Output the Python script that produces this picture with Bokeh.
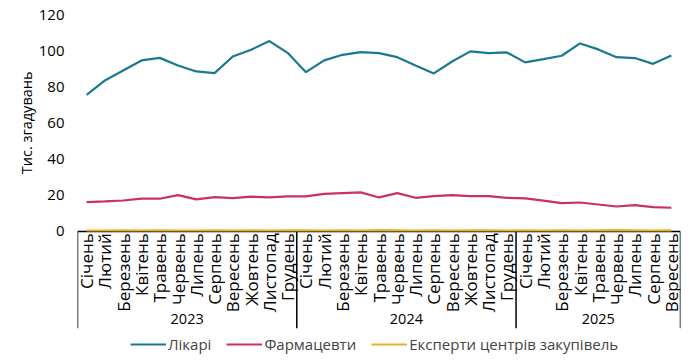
import math
from bokeh.plotting import figure
from bokeh.models import (FactorRange, Range1d, Legend, LegendItem, FixedTicker,
                          ColumnDataSource, Title)
from bokeh.transform import dodge
from bokeh.core.properties import value
from bokeh.embed import file_html
from bokeh.resources import INLINE

years = ["2023", "2024", "2025"]
months = ["Січень", "Лютий", "Березень", "Квітень", "Травень", "Червень",
          "Липень", "Серпень", "Вересень", "Жовтень", "Листопад", "Грудень"]
months_per_year = [12, 12, 9]

doctors = [75.6, 83.5, 89.0, 94.6, 96.0, 91.8, 88.5, 87.6, 96.8, 100.5, 105.3, 98.8,
           88.1, 94.6, 97.7, 99.2, 98.6, 96.4, 91.8, 87.4, 94.0, 99.6, 98.6, 99.0,
           93.5, 95.3, 97.2, 104.0, 100.7, 96.4, 95.9, 92.7, 97.3]
pharmacists = [16.2, 16.6, 17.1, 18.1, 18.1, 20.1, 17.7, 19.0, 18.4, 19.2, 18.8, 19.4,
               19.4, 20.8, 21.2, 21.6, 18.8, 21.2, 18.6, 19.5, 20.1, 19.5, 19.5, 18.6,
               18.3, 17.0, 15.7, 16.0, 14.9, 13.8, 14.6, 13.4, 13.1]
experts = [0.5, 0.5, 0.6, 0.5, 0.6, 0.5, 0.5, 0.6, 0.5, 0.6, 0.5, 0.6,
           0.6, 0.5, 0.6, 0.5, 0.7, 0.6, 0.5, 0.6, 0.5, 0.6, 0.6, 0.5,
           0.6, 0.5, 0.6, 0.5, 0.6, 0.7, 0.6, 0.5, 0.6]
series_names = ["Лікарі", "Фармацевти", "Експерти центрів закупівель"]
colors = ["#1a7890", "#c9325a", "#e6b02e"]
y_ticks = [0, 20, 40, 60, 80, 100, 120]
y_label = "Тис. згадувань"

FONT = "Open Sans"

factors = [(y, m) for y, n in zip(years, months_per_year) for m in months[:n]]
month_labels = [f[1] for f in factors]
source = ColumnDataSource(dict(x=factors, d=doctors, p=pharmacists, e=experts,
                               lab=month_labels))

# y range extended below zero to leave room for the two-level category labels
Y_MIN, Y_MAX = -71.4, 120
MONTH_Y, YEAR_Y, SEP_Y = -1.0, -48.7, -53.6

p = figure(width=697, height=360, output_backend="svg", toolbar_location=None,
           x_range=FactorRange(*factors, group_padding=0, factor_padding=0,
                               range_padding=0),
           y_range=Range1d(Y_MIN, Y_MAX), x_axis_location=None,
           min_border_left=77, min_border_right=17, min_border_top=14,
           min_border_bottom=0)
p.outline_line_color = None
p.grid.visible = False

# group boundaries: first month of every year (left edge) and last month (right edge)
starts = [f for f in factors if f[1] == months[0]]
sep_left = ColumnDataSource(dict(x=starts))
sep_right = ColumnDataSource(dict(x=[factors[-1]]))
p.segment(x0=dodge("x", -0.5, range=p.x_range), x1=dodge("x", -0.5, range=p.x_range),
          y0=0, y1=SEP_Y, source=sep_left, line_color="black", line_width=1.5)
p.segment(x0=dodge("x", 0.5, range=p.x_range), x1=dodge("x", 0.5, range=p.x_range),
          y0=0, y1=SEP_Y, source=sep_right, line_color="black", line_width=1.5)
# baseline (x axis line)
base = ColumnDataSource(dict(x0=[factors[0]], x1=[factors[-1]]))
p.segment(x0=dodge("x0", -0.5, range=p.x_range), x1=dodge("x1", 0.5, range=p.x_range),
          y0=0, y1=0, source=base, line_color="black", line_width=1.5)

renderers = []
for col, color in zip(["d", "p", "e"], colors):
    r = p.line("x", col, source=source, line_color=color, line_width=2.2)
    renderers.append(r)

# month labels
p.text(x="x", y=MONTH_Y, text="lab", source=source, angle=math.pi / 2,
       text_align="right", text_baseline="middle", text_font=value(FONT),
       text_font_size="17px", text_color="black")
# year labels
ysrc = ColumnDataSource(dict(x=years, t=years))
p.text(x="x", y=YEAR_Y, text="t", source=ysrc, text_align="center",
       text_baseline="middle", text_font=value(FONT), text_font_size="14.5px",
       text_color="black")

yax = p.yaxis[0]
yax.ticker = FixedTicker(ticks=y_ticks)
yax.axis_line_color = None
yax.major_tick_line_color = None
yax.minor_tick_line_color = None
yax.major_label_text_font = FONT
yax.major_label_text_font_size = "15px"
yax.major_label_text_color = "black"
yax.major_label_standoff = 7

p.add_layout(Title(text=y_label, align="right", offset=57, text_font=FONT,
                   text_font_size="14.5px", text_font_style="normal",
                   text_color="black", standoff=0), "left")

items = [LegendItem(label=n, renderers=[r]) for n, r in zip(series_names, renderers)]
legend = Legend(items=items, orientation="horizontal", location=(53, 6),
                label_text_font=FONT, label_text_font_size="15px",
                glyph_width=36, glyph_height=14, label_height=14,
                label_standoff=2, spacing=15, padding=0, margin=0,
                border_line_color=None, background_fill_alpha=0)
p.add_layout(legend)

open("out.html", "w").write(file_html(p, INLINE))
